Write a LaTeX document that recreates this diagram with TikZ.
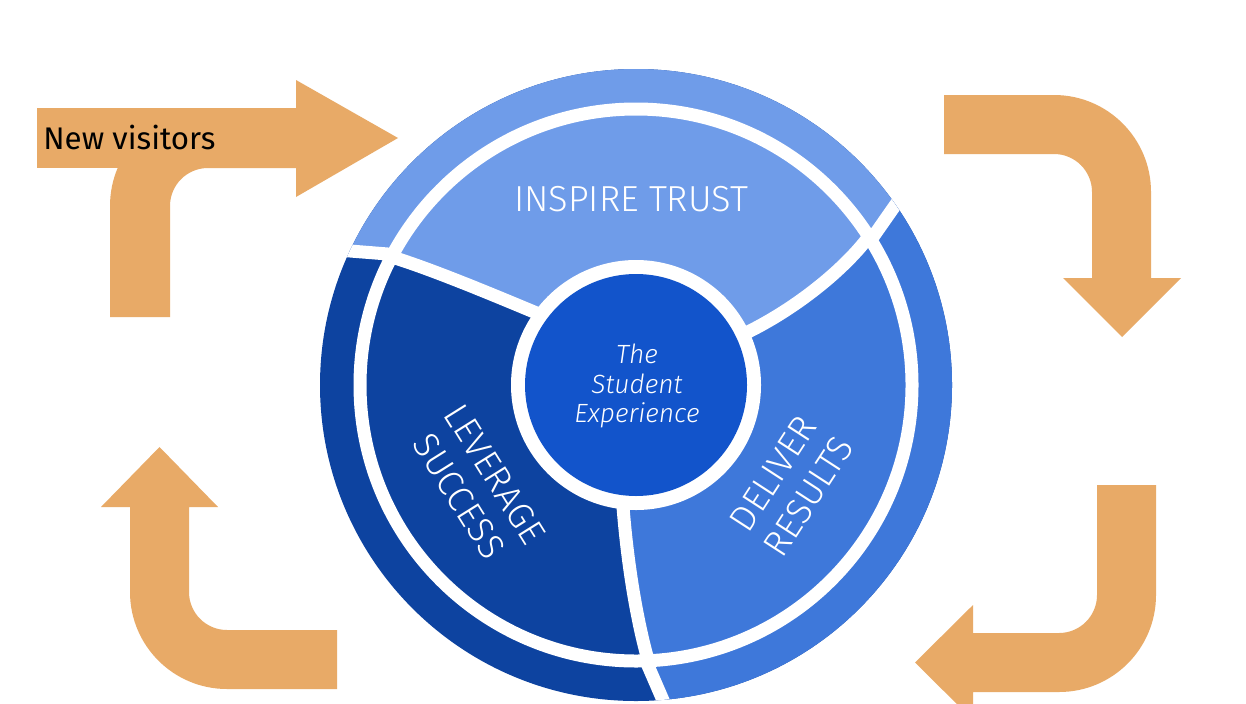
\documentclass[tikz,border=0pt]{standalone}
\usepackage{fontspec}
\setmainfont{Fira Sans}
\newfontfamily\lightfont{Fira Sans Light}
\definecolor{lightB}{HTML}{6F9CE9}
\definecolor{midB}{HTML}{3E78DA}
\definecolor{darkB}{HTML}{0D43A0}
\definecolor{coreB}{HTML}{1254CB}
\definecolor{orangeA}{HTML}{E8AA67}
\begin{document}
\begin{tikzpicture}[x=0.02cm,y=-0.02cm,
  arrowfill/.style={fill=orangeA},
  divider/.style={draw=white,line width=0.26cm},
  heading/.style={text=white,inner sep=0pt,align=center,
    font=\lightfont\fontsize{20.6}{24}\selectfont},
  coretext/.style={text=white,inner sep=0pt,align=center,
    font=\lightfont\itshape\fontsize{15}{17}\selectfont},
  label/.style={text=black,inner sep=0pt,anchor=base west,
    font=\fontsize{17.8}{21}\selectfont}]
\clip (0,0) rectangle (1246,703);
\fill[white] (0,0) rectangle (1246,703);

% ---- orange arrows ----
% top left (new visitors)
\fill[arrowfill] (110,317) -- (110,206) .. controls (110,151.9) and (153.9,108) .. (208,108)
  -- (296,108) -- (296,80) -- (398,138) -- (296,197) -- (296,168) -- (208,168)
  .. controls (187,168) and (170,185) .. (170,206) -- (170,317) -- cycle;
\fill[arrowfill] (37,108) rectangle (210,168);
% top right
\fill[arrowfill] (944,95) -- (1054,95) .. controls (1107.6,95) and (1151,138.4) .. (1151,192)
  -- (1151,278) -- (1181,278) -- (1122,337) -- (1063,278) -- (1092,278) -- (1092,192)
  .. controls (1092,171) and (1075,154) .. (1054,154) -- (944,154) -- cycle;
% bottom right
\fill[arrowfill] (1097,485) -- (1156,485) -- (1156,595) .. controls (1156,648.6) and (1112.6,692) .. (1059,692)
  -- (973,692) -- (973,720) -- (915,662.5) -- (973,605) -- (973,633) -- (1059,633)
  .. controls (1080,633) and (1097,616) .. (1097,595) -- cycle;
% bottom left
\fill[arrowfill] (337,630) -- (227,630) .. controls (206,630) and (189,613) .. (189,592)
  -- (189,507) -- (218,507) -- (159.5,447) -- (101,507) -- (130,507) -- (130,592)
  .. controls (130,645.6) and (173.4,689) .. (227,689) -- (337,689) -- cycle;

\node[label] (nv) at (43,149) {New visitors};

% ---- wheel ----
\begin{scope}
\clip (636,385) circle[radius=316];
\fill[darkB] (636,385) circle[radius=320];
\fill[lightB] (636,385) -- (570,327) .. controls (510,302) and (440,272) .. (392,257)
  -- (394,254.5) -- (300,247) -- (250,240) -- (250,30) -- (1000,30) -- (1000,120) -- (916,175.5) -- (873,237)
  -- (870,235) .. controls (840,276) and (775,325) .. (715,346) -- cycle;
\fill[midB] (636,385) -- (715,346) .. controls (775,325) and (840,276) .. (870,235)
  -- (873,237) -- (916,175.5) -- (1000,120) -- (1000,760) -- (680,760) -- (672,721) -- (646,661)
  -- (648,660) .. controls (634,610) and (624,540) .. (621,475) -- cycle;
\draw[divider] (570,327) .. controls (510,302) and (440,272) .. (392,257);
\draw[divider] (394,254.5) -- (300,247);
\draw[divider] (715,346) .. controls (775,325) and (840,276) .. (870,235);
\draw[divider] (873,237) -- (916,175.5);
\draw[divider] (621,475) .. controls (624,540) and (634,610) .. (648,660);
\draw[divider] (646,661) -- (672,721);
\draw[white,line width=0.26cm] (636,385) circle[radius=276];
\end{scope}
\fill[white] (636,385) circle[radius=125];
\fill[coreB] (636,385) circle[radius=111];

\node[heading] (it) at (631,199) {INSPIRE TRUST};
\node[heading,rotate=-58] (ls) at (477,485) {LEVERAGE\\SUCCESS};
\node[heading,rotate=57] (dr) at (791,485) {DELIVER\\RESULTS};
\node[coretext] (se) at (637,386) {The\\Student\\Experience};
\end{tikzpicture}
\end{document}
